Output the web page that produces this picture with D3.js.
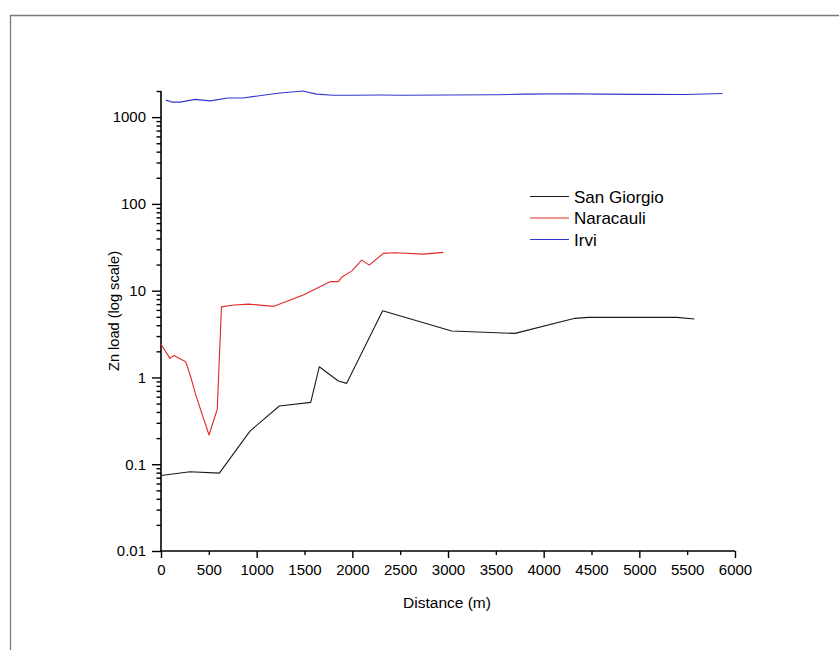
<!DOCTYPE html>
<html>
<head>
<meta charset="utf-8">
<script src="https://cdn.jsdelivr.net/npm/d3@7"></script>
<style>
  body { margin: 0; background: #ffffff; }
  svg { display: block; }
  text { font-family: "Liberation Sans", Arial, sans-serif; fill: #000; }
</style>
</head>
<body>
<svg id="chart" width="839" height="650"></svg>
<script>
// Zn load along three streams (distance downstream in metres)
const seriesNames = ["San Giorgio", "Naracauli", "Irvi"];
const seriesColors = ["#1a1a1a", "#e02828", "#3434cc"];

const sanGiorgioDist = [0, 303, 610, 930, 1237, 1565, 1655, 1853, 1941, 2317, 3038, 3700, 4327, 4467, 5390, 5575];
const sanGiorgioLoad = [0.074, 0.082, 0.079, 0.241, 0.469, 0.516, 1.33, 0.91, 0.855, 5.86, 3.43, 3.22, 4.80, 4.92, 4.92, 4.71];

const naracauliDist = [0, 94, 136, 258, 310, 363, 502, 588, 632, 739, 913, 1181, 1487, 1767, 1853, 1895, 1993, 2098, 2177, 2324, 2446, 2742, 2951];
const naracauliLoad = [2.41, 1.66, 1.79, 1.52, 1.02, 0.63, 0.217, 0.43, 6.5, 6.8, 7.0, 6.6, 8.9, 12.7, 12.7, 14.5, 16.8, 22.5, 19.7, 26.9, 27.3, 26.4, 27.6];

const irviDist = [52, 112, 200, 355, 512, 700, 857, 1066, 1244, 1484, 1627, 1798, 2000, 2300, 2500, 3000, 3500, 3800, 4300, 4600, 5000, 5500, 5870];
const irviLoad = [1570, 1490, 1490, 1600, 1540, 1660, 1660, 1790, 1900, 2000, 1840, 1790, 1790, 1800, 1790, 1800, 1810, 1840, 1860, 1840, 1830, 1820, 1870];

const xTickValues = [0, 500, 1000, 1500, 2000, 2500, 3000, 3500, 4000, 4500, 5000, 5500, 6000];
const yMajorTicks = [0.01, 0.1, 1, 10, 100, 1000];
const yTickLabels = ["0.01", "0.1", "1", "10", "100", "1000"];

const xTitle = "Distance (m)";
const yTitle = "Zn load (log scale)";

const svg = d3.select("#chart");
const W = 839, H = 650;
const plot = { left: 161, right: 735, top: 91, bottom: 551 };

// outer frame
svg.append("path")
  .attr("d", `M10.5,${H} V15.5 H${W}`)
  .attr("fill", "none")
  .attr("stroke", "#7a7a7a")
  .attr("stroke-width", 1.3);

const x = d3.scaleLinear().domain([0, 6000]).range([plot.left, plot.right]);
const y = d3.scaleLog().domain([0.01, 2000]).range([plot.bottom, plot.top]);

// y minor ticks: 2..9 within each decade, up to the top end of the axis
const yAllTicks = [];
for (let d = 0; d < yMajorTicks.length; d++) {
  const base = yMajorTicks[d];
  yAllTicks.push(base);
  for (let m = 2; m <= 9; m++) {
    const v = base * m;
    if (v <= 2000 + 1e-9) yAllTicks.push(v);
  }
}
const isMajorY = v => yMajorTicks.some(t => Math.abs(t - v) / t < 1e-9);

const yAxis = svg.append("g")
  .attr("transform", `translate(${plot.left},0)`)
  .call(d3.axisLeft(y)
    .tickValues(yAllTicks)
    .tickSize(9)
    .tickPadding(5)
    .tickFormat(v => {
      const i = yMajorTicks.findIndex(t => Math.abs(t - v) / t < 1e-9);
      return i >= 0 ? yTickLabels[i] : "";
    }));
yAxis.select(".domain").attr("stroke", "#000").attr("stroke-width", 1.6)
  .attr("d", `M0,${plot.bottom}V${plot.top}`);
yAxis.selectAll(".tick line")
  .attr("stroke", "#000").attr("stroke-width", 1.4)
  .attr("x2", d => isMajorY(d) ? -9 : -4.5);
yAxis.selectAll(".tick text")
  .attr("x", -15)
  .style("font-size", "15px")
  .attr("fill", "#000");

const xAxis = svg.append("g")
  .attr("transform", `translate(0,${plot.bottom})`)
  .call(d3.axisBottom(x)
    .tickValues(xTickValues)
    .tickSize(7)
    .tickPadding(8)
    .tickFormat(d3.format("d")));
xAxis.select(".domain").attr("stroke", "#000").attr("stroke-width", 1.6)
  .attr("d", `M${plot.left},0H${plot.right}`);
xAxis.selectAll(".tick line")
  .attr("stroke", "#000").attr("stroke-width", 1.4)
  .attr("y2", d => d % 1000 === 0 ? 7 : 4);
xAxis.selectAll(".tick text")
  .attr("y", 13)
  .style("font-size", "15px")
  .attr("fill", "#000");

// axis titles
svg.append("text")
  .attr("x", 447)
  .attr("y", 608)
  .attr("text-anchor", "middle")
  .style("font-size", "15.5px")
  .text(xTitle);

svg.append("text")
  .attr("transform", `translate(119,311) rotate(-90)`)
  .attr("text-anchor", "middle")
  .style("font-size", "14.6px")
  .text(yTitle);

// series lines
const seriesData = [
  sanGiorgioDist.map((d, i) => [d, sanGiorgioLoad[i]]),
  naracauliDist.map((d, i) => [d, naracauliLoad[i]]),
  irviDist.map((d, i) => [d, irviLoad[i]])
];

const line = d3.line().x(d => x(d[0])).y(d => y(d[1]));

svg.append("g").selectAll("path")
  .data(seriesData)
  .join("path")
  .attr("d", line)
  .attr("fill", "none")
  .attr("stroke", (d, i) => seriesColors[i])
  .attr("stroke-width", 1.1)
  .attr("stroke-linejoin", "round");

// legend
const legend = svg.append("g");
const legendRows = legend.selectAll("g")
  .data(seriesNames)
  .join("g")
  .attr("transform", (d, i) => `translate(530,${196.5 + i * 21.5})`);
legendRows.append("line")
  .attr("x1", 0).attr("x2", 39)
  .attr("y1", 0).attr("y2", 0)
  .attr("stroke", (d, i) => seriesColors[i])
  .attr("stroke-width", 1.1);
legendRows.append("text")
  .attr("x", 44)
  .attr("y", 6)
  .style("font-size", "17px")
  .text(d => d);
</script>
</body>
</html>
